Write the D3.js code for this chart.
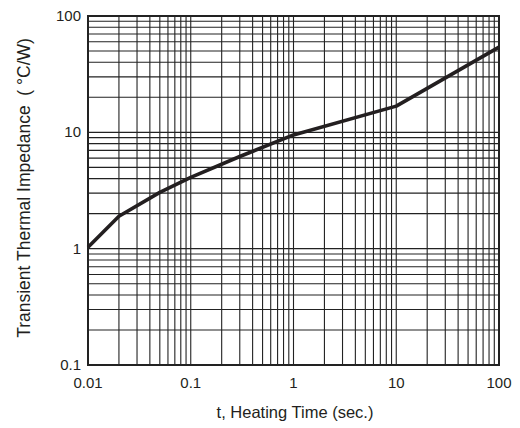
<!DOCTYPE html>
<html><head><meta charset="utf-8">
<script src="https://cdn.jsdelivr.net/npm/d3@7"></script>
<style>body{margin:0;background:#fff}svg{display:block}</style>
</head><body>
<script>
const timeSec = [0.01, 0.02, 0.05, 0.1, 0.3, 1, 10, 100];
const impedance = [1.03, 1.9, 3.05, 4.1, 6.2, 9.5, 16.8, 54];
const xTicks = [0.01, 0.1, 1, 10, 100];
const yTicks = [0.1, 1, 10, 100];
const xLabels = ["0.01", "0.1", "1", "10", "100"];
const yLabels = ["0.1", "1", "10", "100"];

const W = 520, H = 428;
const m = {l: 88, r: 21, t: 16, b: 63};
const svg = d3.select("body").append("svg").attr("width", W).attr("height", H);
const x = d3.scaleLog().domain([0.01, 100]).range([m.l, W - m.r]);
const y = d3.scaleLog().domain([0.1, 100]).range([H - m.b, m.t]);

const font = "'Liberation Sans', Arial, sans-serif";
const g = svg.append("g");

// grid lines (1..9 per decade)
const xGrid = [], yGrid = [];
for (let e = -2; e < 2; e++) for (let k = 1; k < 10; k++) xGrid.push(k * Math.pow(10, e));
for (let e = -1; e < 2; e++) for (let k = 1; k < 10; k++) yGrid.push(k * Math.pow(10, e));
g.selectAll(".vx").data(xGrid).join("line")
  .attr("x1", d => x(d)).attr("x2", d => x(d)).attr("y1", m.t).attr("y2", H - m.b)
  .attr("stroke", "#222").attr("stroke-width", 1.1);
g.selectAll(".hy").data(yGrid).join("line")
  .attr("y1", d => y(d)).attr("y2", d => y(d)).attr("x1", m.l).attr("x2", W - m.r)
  .attr("stroke", "#222").attr("stroke-width", 1.1);

// frame
g.append("rect").attr("x", m.l).attr("y", m.t).attr("width", W - m.l - m.r).attr("height", H - m.t - m.b)
  .attr("fill", "none").attr("stroke", "#222").attr("stroke-width", 2);

// curve
const line = d3.line().x((d, i) => x(timeSec[i])).y(d => y(d)).curve(d3.curveLinear);
g.append("path").datum(impedance).attr("d", line)
  .attr("fill", "none").attr("stroke", "#231f20").attr("stroke-width", 3.6).attr("stroke-linejoin", "round");

// tick labels
g.selectAll(".xl").data(xTicks).join("text")
  .attr("x", d => x(d)).attr("y", H - m.b + 23).attr("text-anchor", "middle")
  .attr("font-family", font).attr("font-size", 15).attr("fill", "#231f20")
  .text((d, i) => xLabels[i]);
g.selectAll(".yl").data(yTicks).join("text")
  .attr("x", m.l - 7).attr("y", d => y(d) + 5).attr("text-anchor", "end")
  .attr("font-family", font).attr("font-size", 15).attr("fill", "#231f20")
  .text((d, i) => yLabels[i]);

// axis titles
svg.append("text").attr("x", 295).attr("y", 418).attr("text-anchor", "middle")
  .attr("font-family", font).attr("font-size", 16.5).attr("fill", "#231f20")
  .text("t, Heating Time (sec.)");
svg.append("text").attr("transform", `translate(30,188) rotate(-90)`)
  .attr("text-anchor", "middle").attr("font-family", font).attr("font-size", 17.5).attr("fill", "#231f20")
  .attr("xml:space", "preserve").style("white-space", "pre")
  .text("Transient Thermal Impedance  ( °C/W)");
</script>
</body></html>
